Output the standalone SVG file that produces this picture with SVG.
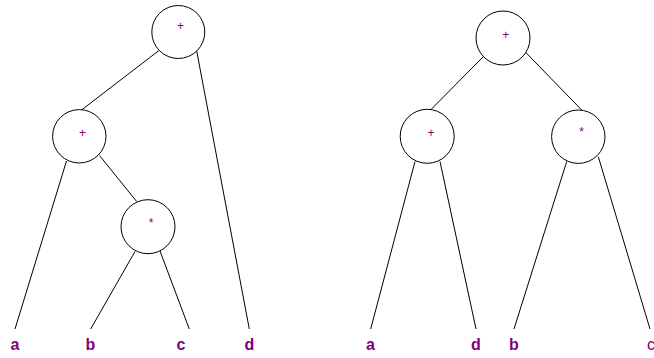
<svg xmlns="http://www.w3.org/2000/svg" width="654" height="358" viewBox="0 0 654 358">
  <style>
    .node circle { fill: #ffffff; stroke: #000000; stroke-width: 1; }
    .op { font-family: "Liberation Sans", Arial, sans-serif; font-size: 12px; fill: #800080; text-anchor: middle; }
    .leaf { font-family: "Liberation Sans", Arial, sans-serif; font-size: 16px; font-weight: bold; fill: #800080; text-anchor: middle; }
    .leaf.plain { font-weight: normal; }
    #edges line { stroke: #000000; stroke-width: 1; }
  </style>
  <rect width="654" height="358" fill="#ffffff"/>

  <!-- connectors -->
  <g id="edges">
    <!-- left tree: (a + (b * c)) + d -->
    <line x1="159" y1="50.5" x2="81.5" y2="110"/>
    <line x1="196.5" y1="50" x2="249.3" y2="329"/>
    <line x1="66.5" y1="161" x2="15" y2="329"/>
    <line x1="99.5" y1="155.5" x2="136.7" y2="201.5"/>
    <line x1="135" y1="251.5" x2="90.7" y2="329"/>
    <line x1="160" y1="251" x2="189.3" y2="329"/>
    <!-- right tree: (a + d) + (b * c) -->
    <line x1="483.3" y1="56.7" x2="431" y2="109.5"/>
    <line x1="521.7" y1="48.3" x2="581.7" y2="110"/>
    <line x1="415" y1="161.5" x2="370.7" y2="329"/>
    <line x1="440" y1="161.5" x2="476" y2="329"/>
    <line x1="566.7" y1="161.5" x2="514" y2="329"/>
    <line x1="598.3" y1="156.7" x2="650" y2="329"/>
  </g>

  <!-- left tree nodes -->
  <g id="L-root" class="node">
    <circle cx="178.3" cy="32" r="26.5"/>
    <text class="op" x="180.5" y="30">+</text>
  </g>
  <g id="L-plus" class="node">
    <circle cx="79.3" cy="136.3" r="26.7"/>
    <text class="op" x="82.5" y="136.5">+</text>
  </g>
  <g id="L-times" class="node">
    <circle cx="148" cy="226.7" r="27"/>
    <text class="op" x="151" y="227">*</text>
  </g>
  <g id="L-a"><text class="leaf" x="15" y="350">a</text></g>
  <g id="L-b"><text class="leaf" x="90.5" y="350">b</text></g>
  <g id="L-c"><text class="leaf" x="181" y="350">c</text></g>
  <g id="L-d"><text class="leaf" x="249.5" y="350">d</text></g>

  <!-- right tree nodes -->
  <g id="R-root" class="node">
    <circle cx="503" cy="38" r="27"/>
    <text class="op" x="505.7" y="38.5">+</text>
  </g>
  <g id="R-plus" class="node">
    <circle cx="427.2" cy="136.3" r="27"/>
    <text class="op" x="431" y="137">+</text>
  </g>
  <g id="R-times" class="node">
    <circle cx="578.3" cy="136.7" r="26.7"/>
    <text class="op" x="581.7" y="136">*</text>
  </g>
  <g id="R-a"><text class="leaf" x="370.5" y="350">a</text></g>
  <g id="R-d"><text class="leaf" x="476" y="350">d</text></g>
  <g id="R-b"><text class="leaf" x="514" y="350">b</text></g>
  <g id="R-c"><text class="leaf plain" x="651" y="350">c</text></g>
</svg>
